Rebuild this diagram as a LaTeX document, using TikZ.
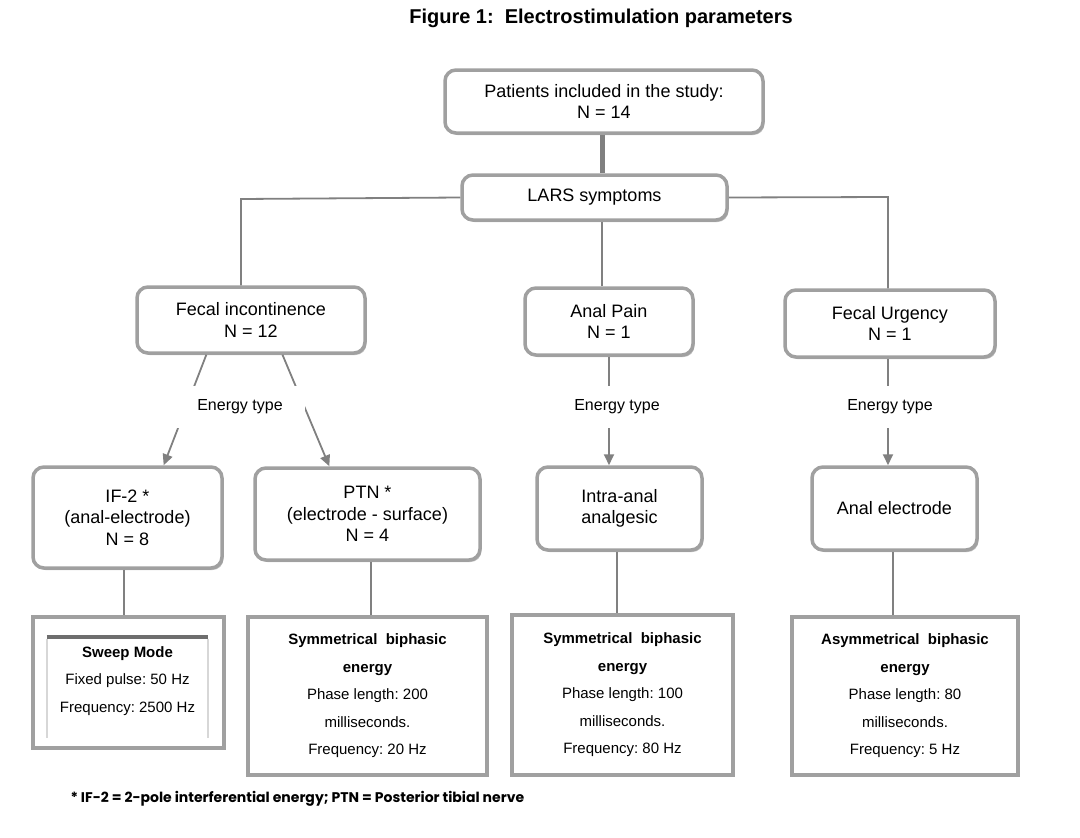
\documentclass[tikz,border=0pt]{standalone}
\usepackage{fontspec}
\setmainfont{Liberation Sans}
\newfontfamily\footfont{Poppins}
\usetikzlibrary{arrows.meta,calc,shadows}
\definecolor{boxline}{RGB}{160,160,160}
\definecolor{conn}{RGB}{128,128,128}
\definecolor{topshade}{RGB}{110,110,110}
\definecolor{sideshade}{RGB}{215,215,215}
\frenchspacing
\begin{document}
\begin{tikzpicture}[x=1pt,y=-1pt,
  rbox/.style={draw=boxline, line width=3.5pt, rounded corners=11pt, fill=white,
    align=center, inner sep=0pt,
    font=\fontsize{18}{21.5}\selectfont,
    drop shadow={shadow xshift=1.5pt, shadow yshift=-2pt, opacity=0.25, fill=black}},
  sbox/.style={draw=boxline, line width=4pt, fill=white, align=center, inner sep=0pt,
    font=\fontsize{15}{27.5}\selectfont,
    drop shadow={shadow xshift=1.5pt, shadow yshift=-2pt, opacity=0.25, fill=black}},
  elabel/.style={fill=white, inner sep=0pt, minimum width=130pt, minimum height=42pt,
    font=\fontsize{16}{19}\selectfont},
  link/.style={draw=conn, line width=1.8pt},
  arr/.style={draw=conn, line width=1.8pt, -{Triangle[length=11pt,width=10pt]}}
]
\useasboundingbox (0,0) rectangle (1080,838);

% title
\node[font=\bfseries\fontsize{20}{24}\selectfont] (title) at (601,18) {Figure 1:\ \ Electrostimulation parameters};

% level 1 and 2
\node[rbox, minimum width=318pt, minimum height=63pt] (pat) at (604,101.5)
  {Patients included in the study:\\N = 14};
\node[rbox, minimum width=265pt, minimum height=45pt] (lars) at (594.5,197.5) {LARS symptoms};

% level 3
\node[rbox, minimum width=228pt, minimum height=66pt] (fi) at (251,320) {Fecal incontinence\\N = 12};
\node[rbox, minimum width=168pt, minimum height=67pt] (ap) at (609,321.5) {Anal Pain\\N = 1};
\node[rbox, minimum width=210pt, minimum height=67pt] (fu) at (890,323.5) {Fecal Urgency\\N = 1};

% level 4
\node[rbox, minimum width=189pt, minimum height=101pt] (if) at (127.5,517.5) {IF-2 *\\(anal-electrode)\\N = 8};
\node[rbox, minimum width=225pt, minimum height=92pt] (ptn) at (367.5,514) {PTN *\\(electrode - surface)\\N = 4};
\node[rbox, minimum width=165pt, minimum height=83pt] (ia) at (619.5,508.5) {Intra-anal\\analgesic};
\node[rbox, minimum width=165pt, minimum height=83pt] (ae) at (894.5,508.5) {Anal electrode};

% level 5
\node[sbox, minimum width=191pt, minimum height=131pt] (sw) at (128.5,682) {};
\node[fill=white, inner sep=0pt, minimum width=161pt, minimum height=101pt] (swin) at (127.5,687.5) {};
\draw[sideshade, line width=2pt] ([yshift=-2pt]swin.north west) -- (swin.south west);
\draw[sideshade, line width=2pt] ([yshift=-2pt]swin.north east) -- (swin.south east);
\draw[topshade, line width=4pt] (swin.north west) -- (swin.north east);
\node[align=center, inner sep=0pt, font=\fontsize{15}{27.5}\selectfont] (swtext) at (127.5,681)
  {\textbf{Sweep Mode}\\Fixed pulse: 50 Hz\\Frequency: 2500 Hz};

\node[sbox, minimum width=239pt, minimum height=158pt] (s1) at (367.5,696)
  {\textbf{Symmetrical\ \ biphasic}\\\textbf{energy}\\Phase length: 200\\milliseconds.\\Frequency: 20 Hz};
\node[sbox, minimum width=221pt, minimum height=160pt] (s2) at (622.5,695)
  {\textbf{Symmetrical\ \ biphasic}\\\textbf{energy}\\Phase length: 100\\milliseconds.\\Frequency: 80 Hz};
\node[sbox, minimum width=226pt, minimum height=158pt] (as) at (905,696)
  {\textbf{Asymmetrical\ \ biphasic}\\\textbf{energy}\\Phase length: 80\\milliseconds.\\Frequency: 5 Hz};

% connectors top
\draw[draw=conn, line width=5pt] (pat.south -| 602,0) -- (lars.north -| 602,0);
\draw[link] (lars.west) -- (241,199) -- (fi.north -| 241,0);
\draw[link] (lars.east) -- (888,197) -- (fu.north -| 888,0);
\draw[link] (lars.south -| 602,0) -- (ap.north -| 602,0);

% energy arrows
\draw[arr] ($(fi.south west)!0.307!(fi.south east)$) -- ($(if.north west)!0.688!(if.north east)$);
\draw[arr] ($(fi.south west)!0.636!(fi.south east)$) -- ($(ptn.north west)!0.333!(ptn.north east)$);
\draw[arr] (ap.south) -- (ia.north -| ap.south);
\draw[arr] (fu.south -| 888,0) -- (ae.north -| 888,0);

\node[elabel] (e1) at (240,407) {Energy type};
\node[elabel] (e2) at (617,407) {Energy type};
\node[elabel] (e3) at (890,407) {Energy type};

% connectors bottom
\draw[link] (if.south -| 124,0) -- (sw.north -| 124,0);
\draw[link] (ptn.south -| 371,0) -- (s1.north -| 371,0);
\draw[link] (ia.south -| 617,0) -- (s2.north -| 617,0);
\draw[link] (ae.south -| 893,0) -- (as.north -| 893,0);

% footnote
\node[anchor=west, font=\footfont\bfseries\fontsize{14}{17}\selectfont] (foot) at (67,799)
  {* IF-2 = 2-pole interferential energy; PTN = Posterior tibial nerve};
\end{tikzpicture}
\end{document}
